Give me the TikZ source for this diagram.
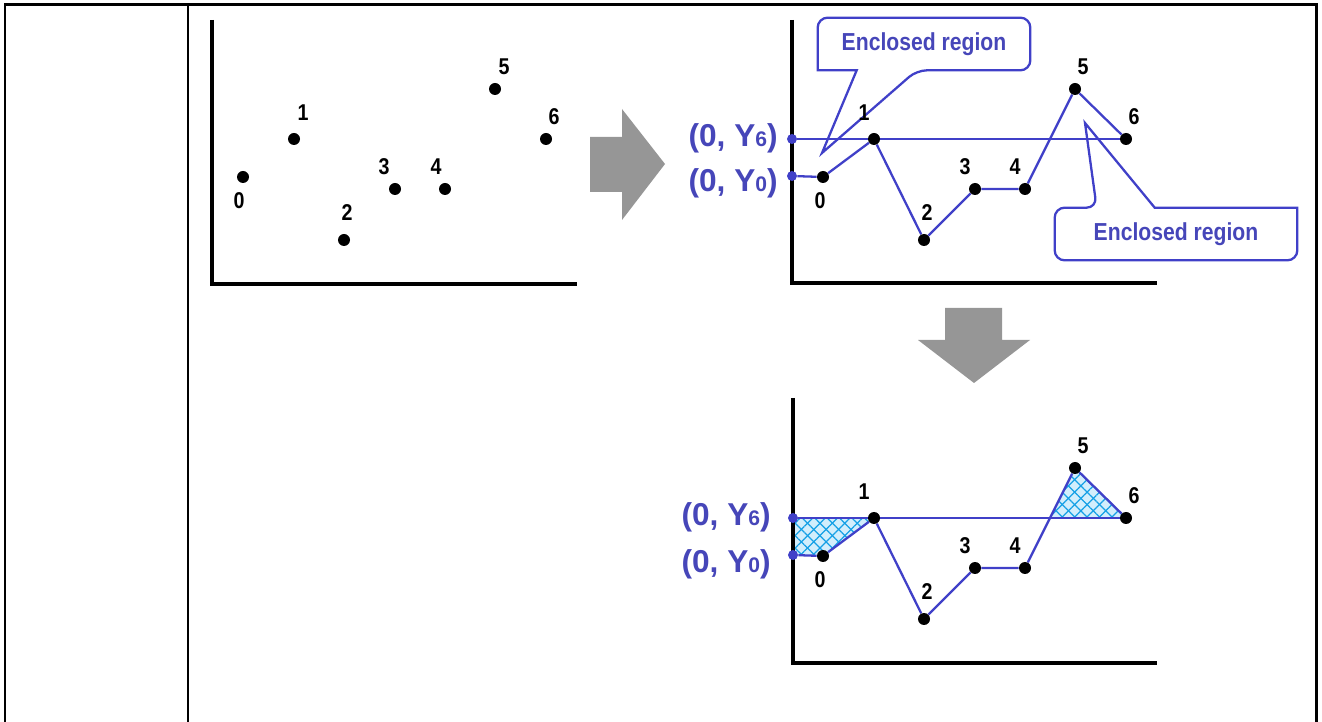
\documentclass[tikz,border=0pt]{standalone}
\usepackage{fontspec}
\setmainfont{Liberation Sans}
\newfontfamily\narrowfont[FakeStretch=0.86]{Liberation Sans}
\usetikzlibrary{calc,patterns.meta}
\definecolor{plotblue}{RGB}{64,64,200}
\definecolor{labelblue}{RGB}{70,70,185}
\definecolor{hatchblue}{RGB}{20,160,230}
\definecolor{hatchfill}{RGB}{210,238,252}
\definecolor{arrowgray}{RGB}{150,150,150}
\newcommand{\subdig}[1]{{\fontsize{12}{12}\selectfont #1}}
\pgfdeclarelayer{hatchlayer}
\pgfdeclarelayer{linelayer}
\pgfsetlayers{hatchlayer,linelayer,main}

\begin{document}
\begin{tikzpicture}[x=0.02cm, y=-0.02cm,
  frame/.style={line width=1.7pt},
  axis/.style={line width=1.9pt},
  dot/.style={circle, fill=black, inner sep=0pt, minimum size=0.24cm},
  ydot/.style={circle, fill=plotblue, inner sep=0pt, minimum size=0.2cm},
  num/.style={font=\narrowfont\bfseries\fontsize{13}{13}\selectfont, inner sep=0pt},
  ylabel/.style={font=\bfseries\fontsize{18}{18}\selectfont, text=labelblue,
                 anchor=east, inner sep=0pt},
  curve/.style={plotblue, line width=1.3pt},
  callout/.style={plotblue, line width=1.3pt},
  calltext/.style={font=\narrowfont\bfseries\fontsize{14}{14}\selectfont,
                   text=labelblue, minimum height=1.04cm, inner sep=0pt},
  bigarrow/.style={fill=arrowgray},
  hatched/.style={fill=hatchfill,
    postaction={pattern={Lines[angle=45,distance=5pt,line width=0.7pt]}, pattern color=hatchblue},
    postaction={pattern={Lines[angle=-45,distance=5pt,line width=0.7pt]}, pattern color=hatchblue}},
]
  \useasboundingbox (0,0) rectangle (1322,722);

  % table frame
  \draw[frame] (5,722) -- (5,5) -- (1316,5) -- (1316,722);
  \draw[frame] (188,5) -- (188,722);

  % axes
  \draw[axis] (212,20) |- (577,284);
  \draw[axis] (792,20) |- (1157,283);
  \draw[axis] (793,398) |- (1157,663);

  % gray arrows
  \fill[bigarrow] (590,137) -- (622,137) -- (622,109) -- (665,164) -- (622,220)
    -- (622,192) -- (590,192) -- cycle;
  \fill[bigarrow] (945,308) -- (1002,308) -- (1002,340) -- (1030,340) -- (974,383)
    -- (918,340) -- (945,340) -- cycle;

  % callouts
  \node[calltext, minimum width=4.24cm] (encl1) at (924,44) {Enclosed region};
  \node[calltext, minimum width=4.84cm] (encl2) at (1176,234) {Enclosed region};
  \coordinate (tip1) at (822,153);
  \coordinate (tip2) at (1085,123);
  \draw[callout] (tip1) -- ($(encl1.south west)+(39,0)$) -- (encl1.south west)
    [rounded corners=0.2cm] -- (encl1.north west) -- (encl1.north east)
    -- (encl1.south east) -- ($(encl1.south west)+(99,0)$) [sharp corners] -- cycle;
  \draw[callout] (tip2) -- ($(encl2.north west)+(100,0)$) -- (encl2.north east)
    [rounded corners=0.2cm] -- (encl2.south east) -- (encl2.south west)
    -- (encl2.north west) -- ($(encl2.north west)+(42,0)$) [sharp corners] -- cycle;

  % points and their numbers
  \foreach \i/\px/\py/\lx/\ly/\mx in {0/243/177/-4/24/-3, 1/294/139/9/-26/-10,
      2/344/240/3/-27/3, 3/395/189/-11/-22/-10, 4/445/189/-9/-22/-10,
      5/495/89/9/-22/8, 6/546/139/8/-22/8} {
    \node[dot] (a\i) at (\px,\py) {};
    \node[num] (na\i) at (\px+\lx,\py+\ly) {\i};
    \node[dot] (b\i) at (\px+580,\py) {};
    \node[num] (nb\i) at (\px+580+\mx,\py+\ly) {\i};
    \node[dot] (c\i) at (\px+580,\py+379) {};
    \node[num] (nc\i) at (\px+580+\mx,\py+379+\ly) {\i};
  }

  % points on the y axis
  \node[ydot] (yb6) at (792,139) {};
  \node[ydot] (yb0) at (792,176) {};
  \node[ydot] (yc6) at (793,518) {};
  \node[ydot] (yc0) at (793,555) {};
  \node[ylabel] (lb6) at (778,138) {(0, Y\subdig{6})};
  \node[ylabel] (lb0) at (778,183) {(0, Y\subdig{0})};
  \node[ylabel] (lc6) at (771,517) {(0, Y\subdig{6})};
  \node[ylabel] (lc0) at (771,564) {(0, Y\subdig{0})};

  % polylines
  \begin{pgfonlayer}{linelayer}
    \draw[curve] (yb6) -- (b6);
    \draw[curve] (yb0) -- (b0) -- (b1) -- (b2) -- (b3) -- (b4) -- (b5) -- (b6);
    \draw[curve] (yc6) -- (c6);
    \draw[curve] (yc0) -- (c0) -- (c1) -- (c2) -- (c3) -- (c4) -- (c5) -- (c6);
  \end{pgfonlayer}

  % enclosed regions
  \begin{pgfonlayer}{hatchlayer}
    \path[hatched] (yc6.center) -- (c1.center) -- (c0.center) -- (yc0.center) -- cycle;
    \path[hatched] (intersection of c4.center--c5.center and yc6.center--c6.center)
      -- (c5.center) -- (c6.center) -- cycle;
  \end{pgfonlayer}
\end{tikzpicture}
\end{document}
